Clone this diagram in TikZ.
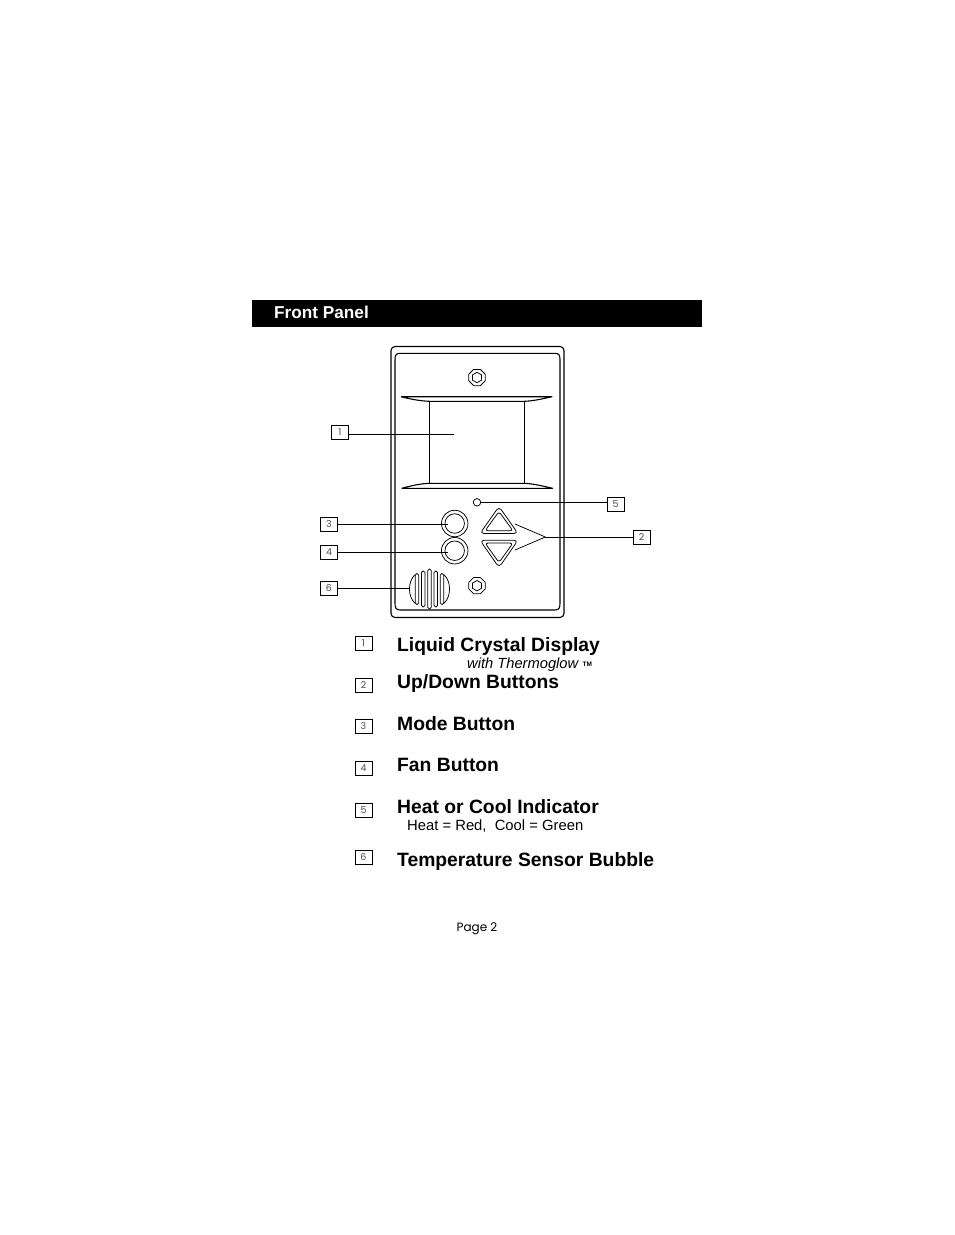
\documentclass[tikz,border=0pt]{standalone}
\usepackage{fontspec}
\setmainfont{Liberation Sans}
\newfontfamily\gothic{Poppins}
\tikzset{
 x=1pt,y=-1pt,
 pen/.style={draw=black,line width=1.1pt,line join=round},
 thin pen/.style={draw=black,line width=0.75pt,line join=round},
 numbox/.style={draw=black,line width=0.7pt,minimum width=17pt,minimum height=14pt,inner sep=0pt,text=black!70,font=\gothic\fontsize{9.5}{10}\selectfont},
 head/.style={anchor=base west,inner sep=0pt,font=\bfseries\fontsize{19.3}{20}\selectfont},
 sub/.style={anchor=base west,inner sep=0pt,font=\fontsize{14.8}{16}\selectfont}
}
\begin{document}
\begin{tikzpicture}
\useasboundingbox (0,0) rectangle (954,1235);
\fill[white] (0,0) rectangle (954,1235);
\node[fill=black,minimum width=450pt,minimum height=27pt,inner sep=0pt,anchor=north west] (bar) at (252,300) {};
\node[anchor=base west,inner sep=0pt,text=white,font=\bfseries\fontsize{17.2}{18}\selectfont] (title) at (274,318) {Front Panel};
% panel
\draw[pen,rounded corners=4pt] (391,346.5) rectangle (564,617.5);
\draw[pen] (395,360) .. controls (395,355) and (396,353.5) .. (400,353.3) -- (555,353.3) .. controls (559,353.5) and (560,355) .. (560,360) -- (560,603) .. controls (560,608) and (559,609.8) .. (555,610) -- (400,610) .. controls (396,609.8) and (395,608) .. (395,603) -- cycle;
% display
\draw[pen] (401,396.7) -- (552,396.7) .. controls (540,399.5) and (532,401) .. (524.3,401.3) -- (429.3,401.3) .. controls (421,401) and (412,399.5) .. (401,396.7);
\draw[pen] (429.3,401.3) -- (429.3,483.3) (524.3,401.3) -- (524.3,483.3);
\draw[pen] (401.7,488.3) -- (552.6,488.3) .. controls (541,485.5) and (532,483.6) .. (524.3,483.3) -- (429.3,483.3) .. controls (421,483.6) and (412,485.5) .. (401.7,488.3);
% screws
\foreach \cy in {377.5,585.7}{
 \draw[thin pen] (477,\cy) +(22.5:8.8) -- +(67.5:8.8) -- +(112.5:8.8) -- +(157.5:8.8) -- +(202.5:8.8) -- +(247.5:8.8) -- +(292.5:8.8) -- +(337.5:8.8) -- cycle;
 \draw[thin pen] (477,\cy) +(30:5.2) -- +(90:5.2) -- +(150:5.2) -- +(210:5.2) -- +(270:5.2) -- +(330:5.2) -- cycle;
}
% LED
\node[circle,thin pen,minimum size=7.5pt,inner sep=0pt] (led) at (477,502.3) {};
% buttons
\foreach \n/\cy in {mode/523.5,fan/550.7}{
 \node[circle,thin pen,minimum size=26.5pt,inner sep=0pt] (\n) at (454.7,\cy) {};
 \node[circle,thin pen,minimum size=19.5pt,inner sep=0pt] at (454.7,\cy) {};
}
% arrows
\draw[thin pen,rounded corners=4pt] (499,506.5) -- (518,533.5) -- (480,533.5) -- cycle;
\draw[thin pen,rounded corners=3pt] (499,511.5) -- (513,530.8) -- (485,530.8) -- cycle;
\draw[thin pen,rounded corners=4pt] (499,567.5) -- (518,540.2) -- (480,540.2) -- cycle;
\draw[thin pen,rounded corners=3pt] (499,562.5) -- (513,543) -- (485,543) -- cycle;
% speaker
\foreach \xa/\ya in {417/15.5,423.2/18,429.5/20,435.8/18,442/15.5}{
 \draw[thin pen,rounded corners=1.5pt] (\xa-1.7,589+\ya) -- (\xa-1.7,589-\ya) -- (\xa+1.7,589-\ya) -- (\xa+1.7,589+\ya) -- cycle;
}
\draw[thin pen] (415.3,574.5) .. controls (407.5,581) and (407.5,597) .. (415.3,603.5);
\draw[thin pen] (443.7,574.5) .. controls (451.5,581) and (451.5,597) .. (443.7,603.5);
\coordinate (spk) at (410,588.3);
% labels
\node[numbox] (n1) at (340,432) {1};
\node[numbox] (n2) at (641.5,537) {2};
\node[numbox] (n3) at (329,524.5) {3};
\node[numbox] (n4) at (329,552.5) {4};
\node[numbox] (n5) at (615.5,504.5) {5};
\node[numbox] (n6) at (329,588.3) {6};
\coordinate (t1) at (454,434.7);
\coordinate (t3) at (447.5,524);
\coordinate (t4) at (447.5,552.3);
\coordinate (fork) at (545.3,537);
\coordinate (up) at (515,524);
\coordinate (dn) at (515,550);
\draw[thin pen] (n1.east |- t1) -- (t1);
\draw[thin pen] (n3.east |- t3) -- (t3);
\draw[thin pen] (n4.east |- t4) -- (t4);
\draw[thin pen] (n6.east |- spk) -- (spk);
\draw[thin pen] (led.east) -- (n5.west |- led.east);
\draw[thin pen] (up) -- (fork) -- (dn);
\draw[thin pen] (fork) -- (n2.west);
% legend
\node[numbox] (l1) at (363.5,643.5) {1};
\node[numbox] (l2) at (363.5,685) {2};
\node[numbox] (l3) at (363.5,726.3) {3};
\node[numbox] (l4) at (363.5,768.5) {4};
\node[numbox] (l5) at (363.5,810.3) {5};
\node[numbox] (l6) at (363.5,857) {6};
\node[head] (h1) at (397,651) {Liquid Crystal Display};
\node[sub,font=\itshape\fontsize{14.7}{16}\selectfont] (s1) at (467,668) {with Thermoglow};
\node[anchor=base west,inner sep=0pt,font=\bfseries\fontsize{6.5}{7}\selectfont] (tm) at (582.5,666.5) {TM};
\node[head] (h2) at (397,688) {Up/Down Buttons};
\node[head] (h3) at (397,730) {Mode Button};
\node[head] (h4) at (397,771) {Fan Button};
\node[head] (h5) at (397,813) {Heat or Cool Indicator};
\node[sub] (s5) at (407,830) {Heat = Red,\ \ Cool = Green};
\node[head] (h6) at (397,866) {Temperature Sensor Bubble};
\node[anchor=base,inner sep=0pt,font=\gothic\fontsize{12}{13}\selectfont] (pg) at (477,931) {Page 2};
\end{tikzpicture}
\end{document}
